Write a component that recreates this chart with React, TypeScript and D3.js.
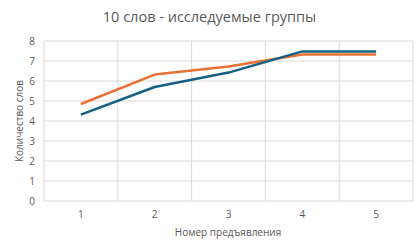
import React from "react";
import * as d3 from "d3";

const categories = ["1", "2", "3", "4", "5"];
const seriesBlue = [4.32, 5.7, 6.42, 7.48, 7.48];
const seriesOrange = [4.85, 6.32, 6.72, 7.32, 7.32];
const yTicks = [0, 1, 2, 3, 4, 5, 6, 7, 8];

const W = 419, H = 251;
const left = 44, right = 413, top = 41, bottom = 201;

export default function App() {
  const x = d3.scaleBand<string>().domain(categories).range([left, right]);
  const y = d3.scaleLinear().domain([0, 8]).range([bottom, top]);
  const line = d3
    .line<number>()
    .x((_, i) => (x(categories[i]) as number) + x.bandwidth() / 2)
    .y((d) => y(d));
  const font = "'Open Sans', 'Noto Sans', sans-serif";
  const gray = "#595959";
  const bounds = categories.map((c) => x(c) as number).concat([right]);
  return (
    <svg width={W} height={H} style={{ position: "absolute", left: 0, top: 0 }}>
      <rect width={W} height={H} fill="#fff" />
      <text x={W / 2} y={22} textAnchor="middle" fontFamily={font} fontSize={14.5} fill={gray}>
        10 слов - исследуемые группы
      </text>
      {yTicks.map((t) => (
        <line key={"h" + t} x1={left} x2={right} y1={y(t)} y2={y(t)} stroke="#d9d9d9" strokeWidth={1} />
      ))}
      {bounds.map((b, i) => (
        <line key={"v" + i} x1={b} x2={b} y1={top} y2={bottom} stroke="#d9d9d9" strokeWidth={1} />
      ))}
      {yTicks.map((t) => (
        <text key={"yt" + t} x={35} y={y(t) + 3.5} textAnchor="end" fontFamily={font} fontSize={10} fill={gray}>
          {t}
        </text>
      ))}
      {categories.map((c) => (
        <text key={"xt" + c} x={(x(c) as number) + x.bandwidth() / 2} y={218} textAnchor="middle" fontFamily={font} fontSize={10} fill={gray}>
          {c}
        </text>
      ))}
      <text x={228} y={236} textAnchor="middle" fontFamily={font} fontSize={10} fill={gray}>
        Номер предъявления
      </text>
      <text transform={`translate(23,${(top + bottom) / 2}) rotate(-90)`} textAnchor="middle" fontFamily={font} fontSize={10} fill={gray}>
        Количество слов
      </text>
      <path d={line(seriesOrange) || ""} fill="none" stroke="#E97132" strokeWidth={2.5} strokeLinejoin="round" />
      <path d={line(seriesBlue) || ""} fill="none" stroke="#156082" strokeWidth={2.5} strokeLinejoin="round" />
    </svg>
  );
}
